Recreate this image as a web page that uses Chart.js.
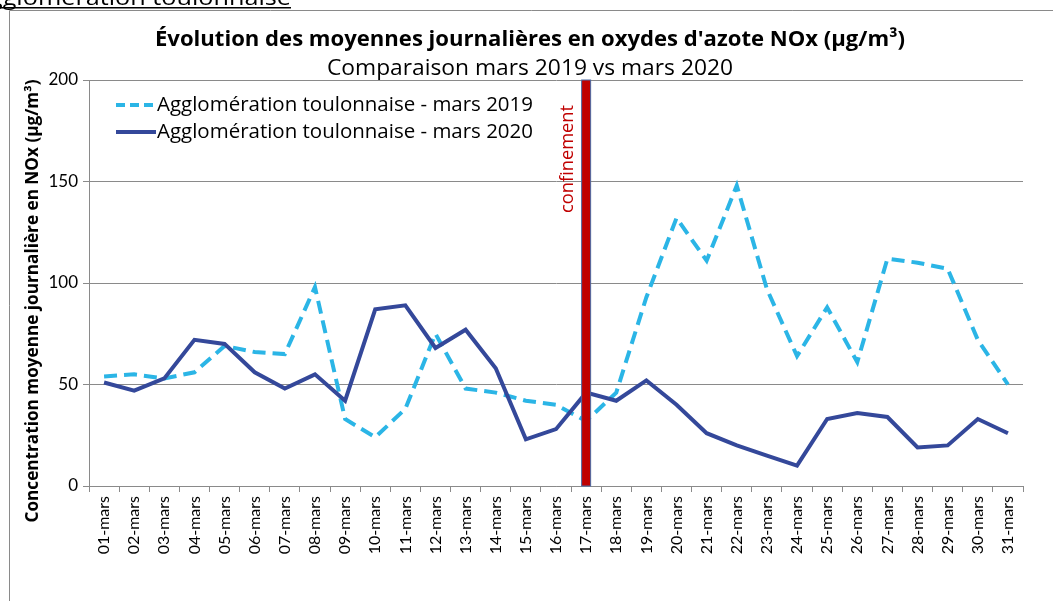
<!DOCTYPE html>
<html>
<head>
<meta charset="utf-8">
<script src="https://cdn.jsdelivr.net/npm/chart.js@4"></script>
<style>
  html, body { margin: 0; padding: 0; background: #fff; overflow: hidden; }
  canvas { display: block; }
</style>
</head>
<body>
<canvas id="noxChart" width="1053" height="601"></canvas>
<script>
// Days of March
const days = ["01-mars", "02-mars", "03-mars", "04-mars", "05-mars", "06-mars", "07-mars", "08-mars",
  "09-mars", "10-mars", "11-mars", "12-mars", "13-mars", "14-mars", "15-mars", "16-mars",
  "17-mars", "18-mars", "19-mars", "20-mars", "21-mars", "22-mars", "23-mars", "24-mars",
  "25-mars", "26-mars", "27-mars", "28-mars", "29-mars", "30-mars", "31-mars"];

// Daily NOx means (µg/m³)
const nox2019 = [54, 55, 53, 56, 69, 66, 65, 98, 33, 24, 38, 75, 48, 46, 42, 40,
  32, 46, 93, 132, 111, 148, 97, 64, 88, 61, 112, 110, 107, 72, 50];
const nox2020 = [51, 47, 53, 72, 70, 56, 48, 55, 42, 87, 89, 68, 77, 58, 23, 28,
  46, 42, 52, 40, 26, 20, 15, 10, 33, 36, 34, 19, 20, 33, 26];

const yTicks = [0, 50, 100, 150, 200];
const lockdownDay = "17-mars";

const mainTitle = "Évolution des moyennes journalières en oxydes d'azote NOx (µg/m³)";
const subTitle = "Comparaison mars 2019 vs mars 2020";
const yTitle = "Concentration moyenne journalière en NOx (µg/m³)";
const pageHeading = "Agglomération toulonnaise";
const seriesNames = ["Agglomération toulonnaise - mars 2019", "Agglomération toulonnaise - mars 2020"];

const FONT = "'Open Sans', sans-serif";
const TICK_FONT = "Lato, 'Open Sans', sans-serif";
const color2019 = "#2bb5e6";
const color2020 = "#34489a";
const gridColor = "#8a8a8a";
const red = "#c00000";

// write text squeezed/stretched to a given width (Calibri-like widths)
function fitText(c, text, x, y, width) {
  const w = c.measureText(text).width;
  c.save();
  c.translate(x, y);
  c.scale(width / w, 1);
  c.fillText(text, 0, 0);
  c.restore();
}

// Texts, frame, legend and lockdown marker
const decorations = {
  id: "decorations",
  beforeDraw(chart) {
    const c = chart.ctx;
    c.save();
    // cut-off heading of the page
    c.fillStyle = "#000";
    c.font = "22px " + FONT;
    c.textBaseline = "alphabetic";
    c.textAlign = "right";
    fitText(c, pageHeading, 291, 5, 318);
    c.fillRect(0, 7, 291, 1.5);
    // chart frame
    c.strokeStyle = gridColor;
    c.lineWidth = 1;
    c.beginPath();
    c.moveTo(9.5, 601);
    c.lineTo(9.5, 10.5);
    c.lineTo(1053, 10.5);
    c.stroke();
    c.restore();
  },
  afterDatasetsDraw(chart) {
    const c = chart.ctx;
    const area = chart.chartArea;
    const x = chart.scales.x.getPixelForValue(days.indexOf(lockdownDay));
    c.save();
    // lockdown bar
    c.fillStyle = red;
    c.fillRect(x - 4.5, area.top, 9, area.bottom - area.top);
    c.strokeStyle = "#4a6aa5";
    c.lineWidth = 1;
    c.strokeRect(x - 4.5, area.top, 9, area.bottom - area.top);
    // lockdown label
    c.translate(x - 9, 213);
    c.rotate(-Math.PI / 2);
    c.fillStyle = red;
    c.font = "18px " + FONT;
    c.textAlign = "left";
    c.textBaseline = "bottom";
    fitText(c, "confinement", 0, 0, 108);
    c.restore();
  },
  afterDraw(chart) {
    const c = chart.ctx;
    c.save();
    c.fillStyle = "#000";
    c.textAlign = "center";
    c.textBaseline = "middle";
    c.font = "bold 22px " + FONT;
    fitText(c, mainTitle, 530, 40, 750);
    c.font = "21px " + FONT;
    fitText(c, subTitle, 530, 69, 406);

    // y axis title
    c.save();
    c.translate(33, 301);
    c.rotate(-Math.PI / 2);
    c.font = "bold 17px " + FONT;
    fitText(c, yTitle, 0, 0, 443);
    c.restore();

    // legend
    const rows = [
      { y: 105, color: color2019, dash: [9, 5] },
      { y: 132, color: color2020, dash: [] }
    ];
    rows.forEach((r, i) => {
      c.strokeStyle = r.color;
      c.lineWidth = 4;
      c.setLineDash(r.dash);
      c.beginPath();
      c.moveTo(116, r.y);
      c.lineTo(156, r.y);
      c.stroke();
      c.setLineDash([]);
      c.fillStyle = "#000";
      c.textAlign = "left";
      c.font = "20px " + FONT;
      fitText(c, seriesNames[i], 157, r.y, 376);
    });
    c.restore();
  }
};

new Chart(document.getElementById("noxChart").getContext("2d"), {
  type: "line",
  data: {
    labels: days,
    datasets: [
      {
        label: seriesNames[0],
        data: nox2019,
        borderColor: color2019,
        borderWidth: 4,
        borderDash: [13, 7],
        pointRadius: 0,
        tension: 0,
        order: 2
      },
      {
        label: seriesNames[1],
        data: nox2020,
        borderColor: color2020,
        borderWidth: 4,
        pointRadius: 0,
        tension: 0,
        order: 1
      }
    ]
  },
  options: {
    responsive: false,
    animation: false,
    layout: { padding: { left: 10, top: 80, right: 30, bottom: 0 } },
    plugins: {
      legend: { display: false },
      title: { display: false },
      tooltip: { enabled: false }
    },
    scales: {
      x: {
        offset: true,
        grid: { offset: true, drawOnChartArea: false, tickLength: 6, color: gridColor },
        border: { color: gridColor },
        ticks: {
          autoSkip: false,
          minRotation: 90,
          maxRotation: 90,
          padding: 4,
          color: "#000",
          font: { family: TICK_FONT, size: 16 }
        },
        afterFit: s => { s.height = 115; }
      },
      y: {
        min: 0,
        max: 200,
        afterBuildTicks: s => { s.ticks = yTicks.map(v => ({ value: v })); },
        grid: { color: gridColor, tickLength: 6 },
        border: { color: gridColor },
        ticks: {
          padding: 5,
          color: "#000",
          font: { family: TICK_FONT, size: 17 }
        },
        afterFit: s => { s.width = 79; }
      }
    }
  },
  plugins: [decorations]
});
</script>
</body>
</html>
